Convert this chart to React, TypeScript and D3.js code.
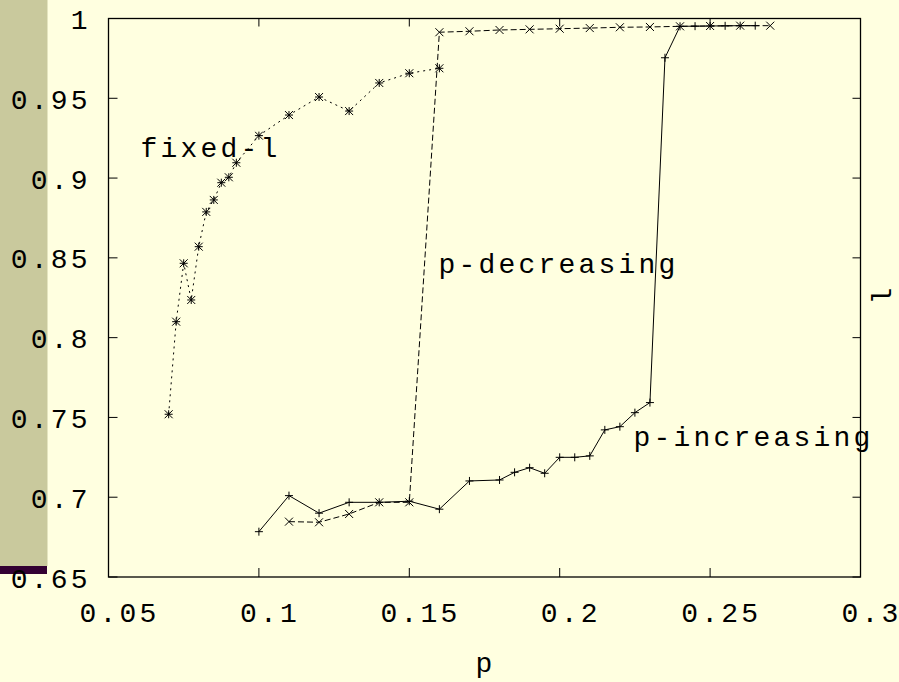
import * as d3 from "d3";

// p values and l values
const fixedP = [0.07, 0.0725, 0.075, 0.0775, 0.08, 0.0825, 0.085, 0.0875, 0.09, 0.0925, 0.1, 0.11, 0.12, 0.13, 0.14, 0.15, 0.16];
const fixedL = [0.752, 0.81, 0.8466, 0.8236, 0.857, 0.8788, 0.8863, 0.8971, 0.9005, 0.9096, 0.9266, 0.9395, 0.9508, 0.942, 0.9596, 0.9657, 0.9688];

const decP = [0.11, 0.12, 0.13, 0.14, 0.15, 0.16, 0.17, 0.18, 0.19, 0.2, 0.21, 0.22, 0.23, 0.24, 0.25, 0.26, 0.27];
const decL = [0.6847, 0.6843, 0.6895, 0.6968, 0.6968, 0.9914, 0.992, 0.9928, 0.9932, 0.9936, 0.994, 0.9945, 0.9947, 0.9951, 0.9953, 0.9955, 0.9955];

const incP = [0.1, 0.11, 0.12, 0.13, 0.14, 0.15, 0.16, 0.17, 0.18, 0.185, 0.19, 0.195, 0.2, 0.205, 0.21, 0.215, 0.22, 0.225, 0.23, 0.235, 0.24, 0.245, 0.25, 0.255, 0.26, 0.265];
const incL = [0.6784, 0.701, 0.69, 0.6968, 0.6968, 0.6975, 0.6925, 0.7102, 0.7108, 0.7156, 0.7185, 0.715, 0.725, 0.725, 0.7259, 0.7422, 0.7442, 0.753, 0.7593, 0.9754, 0.9951, 0.9952, 0.9953, 0.9954, 0.9955, 0.9955];

const xTicks = [0.05, 0.1, 0.15, 0.2, 0.25, 0.3];
const yTicks = [0.65, 0.7, 0.75, 0.8, 0.85, 0.9, 0.95, 1];
const xTickLabels = ["0.05", "0.1", "0.15", "0.2", "0.25", "0.3"];
const yTickLabels = ["0.65", "0.7", "0.75", "0.8", "0.85", "0.9", "0.95", "1"];

const W = 899;
const H = 682;
const PLOT = { left: 108.5, right: 860.5, top: 18.5, bottom: 577 };
const BG = "#ffffe0";
const BAND = "#c9c99d";
const PURPLE = "#330033";
const FONT = "'Liberation Mono', 'DejaVu Sans Mono', monospace";
const FS = 28;
const ADV = 20; // wide gnuplot-style character pitch
const GW = FS * 0.6;
const R = 4;

const PLUS = `M${-R},0H${R}M0,${-R}V${R}`;
const CROSS = `M${-R},${-R}L${R},${R}M${-R},${R}L${R},${-R}`;
const STAR = PLUS + CROSS;

type Pt = [number, number];
const zip = (a: number[], b: number[]): Pt[] => a.map((v, i) => [v, b[i]]);

// place every glyph on a fixed pitch
function Mono({ s, x, y }: { s: string; x: number; y: number }) {
  const xs = s.split("").map((_, i) => (x + i * ADV).toFixed(1)).join(" ");
  return (
    <text x={xs} y={y} fontFamily={FONT} fontSize={FS} fill="#000">
      {s}
    </text>
  );
}
const span = (s: string) => (s.length - 1) * ADV + GW;

export default function App() {
  const x = d3.scaleLinear().domain([0.05, 0.3]).range([PLOT.left, PLOT.right]);
  const y = d3.scaleLinear().domain([0.65, 1]).range([PLOT.bottom, PLOT.top]);
  const line = d3
    .line<Pt>()
    .x((d) => x(d[0]))
    .y((d) => y(d[1]));

  const series = [
    { pts: zip(fixedP, fixedL), dash: "2,4", marker: STAR },
    { pts: zip(decP, decL), dash: "6,3", marker: CROSS },
    { pts: zip(incP, incL), dash: undefined, marker: PLUS },
  ];

  return (
    <>
      <style>{"body{margin:0;background:" + BG + "}"}</style>
      <svg width={W} height={H} style={{ display: "block" }}>
        <rect width={W} height={H} fill={BG} />
        <rect x={0} y={0} width={47.5} height={566} fill={BAND} />
        <rect x={0} y={566} width={47} height={8} fill={PURPLE} />

        {/* y tick labels, right aligned */}
        {yTicks.map((t, i) => (
          <Mono key={"yl" + i} s={yTickLabels[i]} x={87.5 - span(yTickLabels[i])} y={y(t) + 10.5} />
        ))}
        {/* x tick labels, gnuplot puts them a bit right of the tick */}
        {xTicks.map((t, i) => (
          <Mono key={"xl" + i} s={xTickLabels[i]} x={x(t) + 9.5 - span(xTickLabels[i]) / 2} y={621.5} />
        ))}

        {/* ticks, mirrored on all sides */}
        <g stroke="#000" strokeWidth={1}>
          {xTicks.map((t, i) => (
            <g key={"xt" + i}>
              <line x1={x(t)} x2={x(t)} y1={PLOT.bottom} y2={PLOT.bottom - 9} />
              <line x1={x(t)} x2={x(t)} y1={PLOT.top} y2={PLOT.top + 8} />
            </g>
          ))}
          {yTicks.map((t, i) => (
            <g key={"yt" + i}>
              <line x1={PLOT.left} x2={PLOT.left + 9} y1={y(t)} y2={y(t)} />
              <line x1={PLOT.right} x2={PLOT.right - 8} y1={y(t)} y2={y(t)} />
            </g>
          ))}
        </g>

        {/* series */}
        {series.map((s, i) => (
          <g key={"s" + i}>
            <path d={line(s.pts) ?? ""} fill="none" stroke="#000" strokeWidth={1} strokeDasharray={s.dash} />
            {s.pts.map((p, j) => (
              <path
                key={j}
                d={s.marker}
                transform={`translate(${x(p[0])},${y(p[1])})`}
                fill="none"
                stroke="#000"
                strokeWidth={1}
              />
            ))}
          </g>
        ))}

        {/* frame */}
        <rect
          x={PLOT.left}
          y={PLOT.top}
          width={PLOT.right - PLOT.left}
          height={PLOT.bottom - PLOT.top}
          fill="none"
          stroke="#000"
          strokeWidth={1.3}
        />

        {/* series labels */}
        <Mono s="fixed-l" x={140.5} y={156.5} />
        <Mono s="p-decreasing" x={438.5} y={273} />
        <Mono s="p-increasing" x={633.5} y={446} />

        {/* axis titles */}
        <Mono s="p" x={484 - GW / 2} y={672} />
        <text
          transform="translate(891,296) rotate(-90)"
          textAnchor="middle"
          fontFamily={FONT}
          fontSize={FS}
          fill="#000"
        >
          l
        </text>
      </svg>
    </>
  );
}
